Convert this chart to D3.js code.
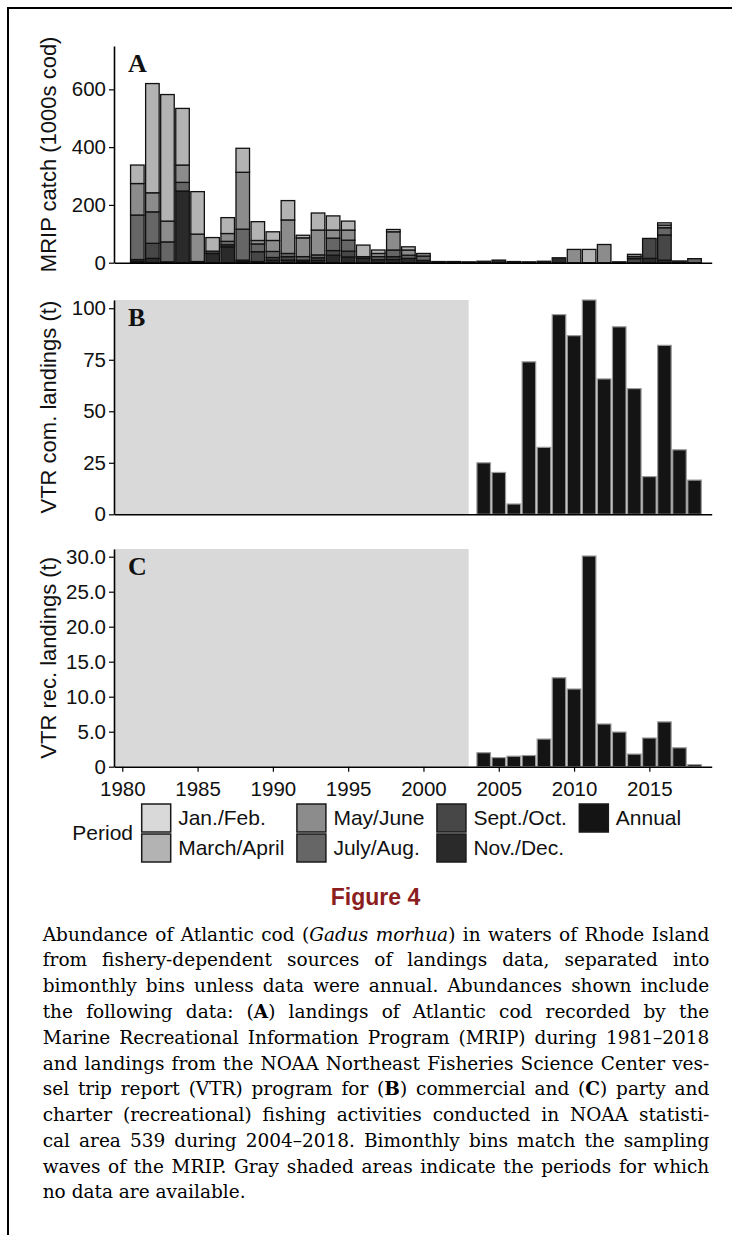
<!DOCTYPE html>
<html>
<head>
<meta charset="utf-8">
<script src="https://cdn.jsdelivr.net/npm/d3@7"></script>
<style>
  body { margin: 0; background: #fff; }
  svg { display: block; }
</style>
</head>
<body>
<div id="figure"></div>
<script>
'use strict';

// ---- data -------------------------------------------------------------

const periods = ['Jan./Feb.', 'March/April', 'May/June', 'July/Aug.', 'Sept./Oct.', 'Nov./Dec.', 'Annual'];
const periodColors = ['#d9d9d9', '#b3b3b3', '#8c8c8c', '#666666', '#474747', '#2a2a2a', '#141414'];

// MRIP catch (1000s of cod), 1981-2018, one array per bimonthly wave
const mripYears = [
  1981, 1982, 1983, 1984, 1985, 1986, 1987, 1988, 1989, 1990,
  1991, 1992, 1993, 1994, 1995, 1996, 1997, 1998, 1999, 2000,
  2001, 2002, 2003, 2004, 2005, 2006, 2007, 2008, 2009, 2010,
  2011, 2012, 2013, 2014, 2015, 2016, 2017, 2018,
];
const janFeb = [
  0, 0, 0, 0, 0, 0, 0, 0, 0, 0,
  0, 0, 0, 0, 0, 0, 0, 0, 0, 0,
  0, 0, 0, 0, 0, 0, 0, 0, 0, 0,
  0, 0, 0, 0, 0, 0, 0, 0,
];
const marApr = [
  64, 378, 438, 196, 147, 47, 55, 83, 65, 30,
  67, 9, 59, 49, 31, 40, 12, 8, 11, 0,
  0, 0, 0, 0, 0, 0, 0, 0, 0, 0,
  46, 0, 0, 0, 0, 8, 0, 0,
];
const mayJun = [
  109, 66, 72, 60, 95, 0, 27, 197, 12, 38,
  116, 65, 86, 28, 35, 0, 11, 63, 18, 9,
  0, 0, 0, 0, 0, 0, 0, 0, 0, 46,
  0, 63, 0, 8, 0, 9, 0, 0,
];
const julAug = [
  154, 109, 69, 30, 0, 0, 12, 107, 27, 21,
  11, 12, 10, 43, 38, 0, 10, 23, 11, 15,
  0, 0, 0, 0, 0, 0, 0, 0, 0, 0,
  0, 0, 0, 7, 0, 25, 0, 14,
];
const sepOct = [
  6, 52, 0, 0, 0, 8, 7, 5, 34, 9,
  12, 5, 9, 16, 20, 6, 0, 10, 0, 0,
  0, 0, 0, 0, 0, 0, 0, 0, 0, 0,
  0, 0, 0, 14, 69, 87, 0, 0,
];
const novDec = [
  5, 15, 3, 248, 4, 32, 55, 4, 4, 9,
  9, 4, 8, 26, 20, 15, 11, 11, 15, 8,
  4, 4, 3, 5, 9, 4, 3, 5, 17, 0,
  0, 0, 3, 0, 15, 9, 6, 0,
];

// VTR landings (t), annual, 2004-2018
const vtrYears = [2004, 2005, 2006, 2007, 2008, 2009, 2010, 2011, 2012, 2013, 2014, 2015, 2016, 2017, 2018];
const vtrCommercial = [25, 20.3, 5, 74, 32.5, 96.9, 86.7, 104, 65.7, 91, 61, 18.3, 82, 31.3, 16.6];
const vtrRecreational = [2.0, 1.3, 1.5, 1.6, 3.95, 12.7, 11.1, 30.1, 6.1, 4.95, 1.8, 4.1, 6.4, 2.7, 0.3];

const xTickValues = [1980, 1985, 1990, 1995, 2000, 2005, 2010, 2015];
const noDataUntil = 2003;

const captionLines = [
  'Abundance of Atlantic cod (*Gadus* *morhua*) in waters of Rhode Island',
  'from fishery-dependent sources of landings data, separated into',
  'bimonthly bins unless data were annual. Abundances shown include',
  'the following data: (**A**) landings of Atlantic cod recorded by the',
  'Marine Recreational Information Program (MRIP) during 1981–2018',
  'and landings from the NOAA Northeast Fisheries Science Center ves-',
  'sel trip report (VTR) program for (**B**) commercial and (**C**) party and',
  'charter (recreational) fishing activities conducted in NOAA statisti-',
  'cal area 539 during 2004–2018. Bimonthly bins match the sampling',
  'waves of the MRIP. Gray shaded areas indicate the periods for which',
  'no data are available.',
];

// ---- layout -----------------------------------------------------------

const width = 732;
const height = 1235;
const sansFont = "'Liberation Sans', Arial, Helvetica, sans-serif";
const serifFont = "'DejaVu Serif', 'Liberation Serif', serif";
const fontSize = 21;
const tickFontSize = 20.5;

const svg = d3.select('#figure')
  .append('svg')
  .attr('width', width)
  .attr('height', height);

// Page frame (left and top rule)
svg.append('path')
  .attr('d', `M8,${height} V8 H${width}`)
  .attr('fill', 'none')
  .attr('stroke', '#000')
  .attr('stroke-width', 2);

// Shared year scale for all three panels
const x = d3.scaleLinear()
  .domain([1979.45, 2019.14])
  .range([114, 711.7]);

const barLeft = (year) => x(year - 0.45);
const barWidth = x(1.9) - x(1);

const panels = [
  {
    label: 'A', top: 46, bottom: 262.7, max: 750,
    ticks: [0, 200, 400, 600], format: d3.format('d'),
    title: 'MRIP catch (1000s cod)', shaded: false, xLabels: false,
  },
  {
    label: 'B', top: 300, bottom: 514.3, max: 104,
    ticks: [0, 25, 50, 75, 100], format: d3.format('d'),
    title: 'VTR com. landings (t)', shaded: true, xLabels: false,
  },
  {
    label: 'C', top: 549, bottom: 766.7, max: 31.1,
    ticks: [0, 5, 10, 15, 20, 25, 30], format: (d) => (d === 0 ? '0' : d3.format('.1f')(d)),
    title: 'VTR rec. landings (t)', shaded: true, xLabels: true,
  },
];

panels.forEach((p) => {
  p.y = d3.scaleLinear().domain([0, p.max]).range([p.bottom, p.top]);
  p.g = svg.append('g').attr('class', `panel-${p.label}`);

  // Gray shading for the years with no VTR data
  if (p.shaded) {
    p.g.append('rect')
      .attr('x', x.range()[0])
      .attr('y', p.top)
      .attr('width', x(noDataUntil) - x.range()[0])
      .attr('height', p.bottom - p.top)
      .attr('fill', '#d9d9d9');
  }
});

// ---- panel A: stacked MRIP bars ---------------------------------------

const waveSeries = [janFeb, marApr, mayJun, julAug, sepOct, novDec];
const mripRows = mripYears.map((year, i) => {
  const row = { year };
  waveSeries.forEach((s, k) => { row[periods[k]] = s[i]; });
  return row;
});

// ggplot stacks the first level on top, so the stack runs Nov./Dec. upward
const stackKeys = periods.slice(0, 6).reverse();
const stacked = d3.stack().keys(stackKeys)(mripRows);
const colorOf = d3.scaleOrdinal().domain(periods).range(periodColors);

const panelA = panels[0];
panelA.g.selectAll('g.layer')
  .data(stacked)
  .join('g')
  .attr('class', 'layer')
  .attr('fill', (d) => colorOf(d.key))
  .selectAll('rect')
  .data((d) => d.filter((s) => s[1] - s[0] > 0))
  .join('rect')
  .attr('x', (d) => barLeft(d.data.year))
  .attr('width', barWidth)
  .attr('y', (d) => panelA.y(d[1]))
  .attr('height', (d) => panelA.y(d[0]) - panelA.y(d[1]))
  .attr('stroke', '#111')
  .attr('stroke-width', 1.3);

// ---- panels B and C: annual VTR bars ----------------------------------

const drawAnnualBars = (p, values) => {
  p.g.selectAll('rect.bar')
    .data(vtrYears.map((year, i) => ({ year, value: values[i] })))
    .join('rect')
    .attr('class', 'bar')
    .attr('x', (d) => barLeft(d.year))
    .attr('width', barWidth)
    .attr('y', (d) => p.y(d.value))
    .attr('height', (d) => p.y(0) - p.y(d.value))
    .attr('fill', colorOf('Annual'))
    .attr('stroke', '#9a9a9a')
    .attr('stroke-width', 1.2);
};

drawAnnualBars(panels[1], vtrCommercial);
drawAnnualBars(panels[2], vtrRecreational);

// ---- axes, titles, panel letters --------------------------------------

panels.forEach((p) => {
  const yAxis = d3.axisLeft(p.y)
    .tickValues(p.ticks)
    .tickFormat(p.format)
    .tickSize(5)
    .tickSizeOuter(0)
    .tickPadding(3);

  const yg = p.g.append('g')
    .attr('transform', `translate(${x.range()[0]},0)`)
    .call(yAxis);

  // Extra padding keeps the year labels clear of the "0" on the y axis
  const xAxis = d3.axisBottom(x)
    .tickValues(p.xLabels ? xTickValues : [])
    .tickFormat(d3.format('d'))
    .tickSize(5)
    .tickSizeOuter(0)
    .tickPadding(10);

  const xg = p.g.append('g')
    .attr('transform', `translate(0,${p.bottom})`)
    .call(xAxis);

  [yg, xg].forEach((g) => {
    g.select('.domain').attr('stroke', '#000').attr('stroke-width', 1.6);
    g.selectAll('.tick line').attr('stroke', '#000').attr('stroke-width', 1.2);
    g.selectAll('.tick text')
      .attr('fill', '#111')
      .style('font-family', sansFont)
      .style('font-size', `${tickFontSize}px`);
  });

  // Rotated y axis title
  p.g.append('text')
    .attr('transform', `translate(56,${(p.top + p.bottom) / 2}) rotate(-90)`)
    .attr('text-anchor', 'middle')
    .attr('fill', '#111')
    .style('font-family', sansFont)
    .style('font-size', '22px')
    .text(p.title);

  // Panel letter
  p.g.append('text')
    .attr('x', x.range()[0] + 14)
    .attr('y', p.top + 26)
    .attr('fill', '#111')
    .style('font-family', "'Liberation Serif', 'Times New Roman', serif")
    .style('font-weight', 'bold')
    .style('font-size', '26px')
    .text(p.label);
});

// ---- legend -----------------------------------------------------------

const legend = svg.append('g').attr('class', 'legend');
const keyW = 29;
const keyH = 28;
const rowCenters = [818, 848];
const legendColumns = [[0, 1], [2, 3], [4, 5], [6]];

legend.append('text')
  .attr('x', 133)
  .attr('y', (rowCenters[0] + rowCenters[1]) / 2)
  .attr('dy', '0.35em')
  .attr('text-anchor', 'end')
  .attr('fill', '#111')
  .style('font-family', sansFont)
  .style('font-size', `${fontSize}px`)
  .text('Period');

let colX = 141.7;
legendColumns.forEach((col) => {
  let colWidth = 0;
  col.forEach((idx, row) => {
    legend.append('rect')
      .attr('x', colX)
      .attr('y', rowCenters[row] - keyH / 2)
      .attr('width', keyW)
      .attr('height', keyH)
      .attr('fill', periodColors[idx])
      .attr('stroke', '#1a1a1a')
      .attr('stroke-width', 1.5);

    const label = legend.append('text')
      .attr('x', colX + keyW + 7.5)
      .attr('y', rowCenters[row])
      .attr('dy', '0.35em')
      .attr('fill', '#111')
      .style('font-family', sansFont)
      .style('font-size', `${fontSize}px`)
      .text(periods[idx]);

    colWidth = Math.max(colWidth, label.node().getComputedTextLength());
  });
  colX += keyW + 7.5 + colWidth + 12.5;
});

// ---- figure heading and caption ---------------------------------------

svg.append('text')
  .attr('x', 375.5)
  .attr('y', 905)
  .attr('text-anchor', 'middle')
  .attr('fill', '#8b1e1e')
  .style('font-family', sansFont)
  .style('font-weight', 'bold')
  .style('font-size', '23px')
  .text('Figure 4');

const captionLeft = 42.7;
const captionRight = 709.3;
const captionTop = 940.7;
const lineHeight = 25.76;
const captionSize = 18.5;

// Split a word into runs of plain, *italic* and **bold** text
const parseWord = (word) => word
  .split(/(\*\*[^*]+\*\*|\*[^*]+\*)/)
  .filter((s) => s)
  .map((s) => {
    if (s.startsWith('**')) return { text: s.slice(2, -2), weight: 'bold', style: 'normal' };
    if (s.startsWith('*')) return { text: s.slice(1, -1), weight: 'normal', style: 'italic' };
    return { text: s, weight: 'normal', style: 'normal' };
  });

const caption = svg.append('g')
  .attr('class', 'caption')
  .attr('fill', '#000')
  .style('font-family', serifFont)
  .style('font-size', `${captionSize}px`);

const probe = caption.append('text').text('n n');
const probe2 = caption.append('text').text('nn');
const spaceWidth = probe.node().getComputedTextLength() - probe2.node().getComputedTextLength();
probe.remove();
probe2.remove();

// Justify each caption line by spreading the gaps between words
captionLines.forEach((line, li) => {
  const baseline = captionTop + li * lineHeight;
  const words = line.split(' ');
  const nodes = words.map((w) => {
    const t = caption.append('text').attr('y', baseline);
    parseWord(w).forEach((run) => {
      t.append('tspan')
        .style('font-weight', run.weight)
        .style('font-style', run.style)
        .text(run.text);
    });
    return t;
  });

  const widths = nodes.map((t) => t.node().getComputedTextLength());
  const total = d3.sum(widths);
  const isLast = li === captionLines.length - 1;
  const gap = isLast ? spaceWidth : (captionRight - captionLeft - total) / (words.length - 1);

  let cx = captionLeft;
  nodes.forEach((t, i) => {
    t.attr('x', cx);
    cx += widths[i] + gap;
  });
});
</script>
</body>
</html>
